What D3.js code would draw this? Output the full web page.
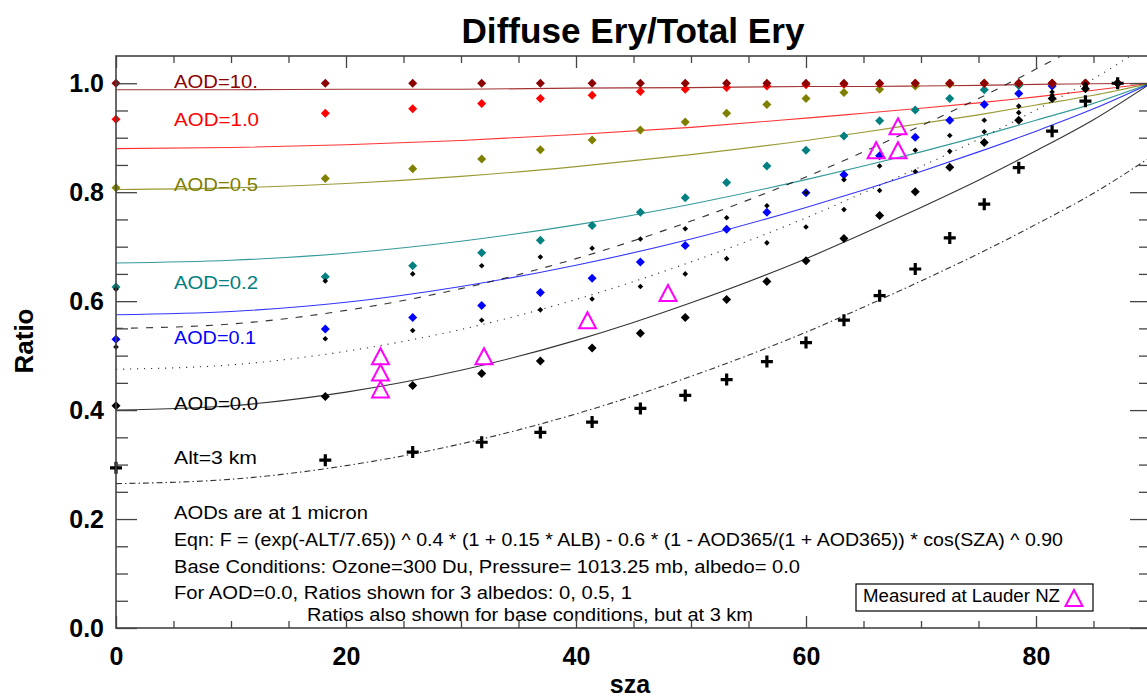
<!DOCTYPE html>
<html><head><meta charset="utf-8">
<script src="https://cdn.jsdelivr.net/npm/d3@7"></script>
<style>
body{margin:0;background:#fff}
svg{display:block}
text{font-family:"Liberation Sans",Arial,Helvetica,sans-serif}
</style>
</head><body>
<svg id="c" width="1147" height="700"></svg>
<script>
// ---------- data ----------
const szaMarks = [0, 18.2, 25.8, 31.8, 36.9, 41.4, 45.6, 49.5, 53.1, 56.6, 60.0, 63.3, 66.4, 69.5, 72.5, 75.5, 78.5, 81.4, 84.3, 87.1];
const aod10Pts = [1.0,1.0,1.0,1.0,1.0,1.0,1.0,1.0,1.0,1.0,1.0,1.0,1.0,1.0,1.0,1.0,1.0,1.0,1.0,1.0];
const aod1Pts  = [0.934,0.945,0.953,0.963,0.972,0.978,0.985,0.989,0.992,0.995,0.997,0.998,0.999,1.0,1.0,1.0,1.0,1.0,1.0,1.0];
const aod05Pts = [0.808,0.825,0.843,0.861,0.878,0.896,0.914,0.929,0.945,0.961,0.972,0.983,0.989,0.995,0.998,1.0,1.0,1.0,1.0,1.0];
const aod02Pts = [0.626,0.645,0.665,0.689,0.712,0.739,0.763,0.790,0.818,0.848,0.877,0.903,0.931,0.951,0.972,0.988,0.996,1.0,1.0,1.0];
const aod01Pts = [0.530,0.549,0.570,0.592,0.616,0.642,0.672,0.702,0.732,0.763,0.799,0.832,0.867,0.901,0.932,0.961,0.981,0.995,1.0,1.0];
const aod0Pts  = [0.408,0.425,0.445,0.467,0.490,0.514,0.541,0.570,0.603,0.636,0.674,0.715,0.757,0.801,0.846,0.891,0.932,0.972,0.990,1.0];
const alb05Pts = [0.516,0.531,0.546,0.565,0.584,0.604,0.627,0.650,0.678,0.707,0.736,0.768,0.803,0.838,0.875,0.911,0.946,0.978,0.995,1.0];
const alb1Pts  = [0.622,0.637,0.650,0.665,0.681,0.697,0.714,0.733,0.753,0.775,0.799,0.823,0.848,0.877,0.904,0.932,0.958,0.984,0.998,1.0];
const alt3Pts  = [0.294,0.308,0.323,0.341,0.359,0.378,0.403,0.427,0.456,0.489,0.524,0.565,0.610,0.659,0.716,0.778,0.845,0.912,0.967,1.0];

const lauderSza   = [23.0, 23.0, 23.0, 32.0, 41.0, 48.0, 66.1, 68.0, 68.0];
const lauderRatio = [0.499, 0.469, 0.438, 0.499, 0.565, 0.615, 0.877, 0.877, 0.921];

const lineSza   = [0,10,20,30,40,50,60,65,70,75,80,85,90];
const aod10Line = [0.988,0.988,0.989,0.989,0.991,0.992,0.994,0.994,0.995,0.996,0.998,0.999,1.0];
const aod1Line  = [0.880,0.882,0.887,0.895,0.906,0.919,0.936,0.945,0.954,0.964,0.975,0.987,1.0];
const aod05Line = [0.805,0.808,0.816,0.829,0.847,0.869,0.895,0.910,0.926,0.942,0.960,0.978,1.0];
const aod02Line = [0.670,0.675,0.688,0.710,0.740,0.778,0.823,0.848,0.874,0.902,0.932,0.963,1.0];
const aod01Line = [0.575,0.581,0.598,0.627,0.666,0.714,0.772,0.804,0.838,0.874,0.912,0.953,1.0];
const aod0Line  = [0.400,0.408,0.433,0.473,0.528,0.597,0.678,0.724,0.772,0.822,0.876,0.933,1.0];
const alb05Line = [0.475,0.483,0.508,0.548,0.603,0.672,0.753,0.799,0.847,0.897,0.951,1.008,1.075];
const alb1Line  = [0.550,0.558,0.583,0.623,0.678,0.747,0.828,0.874,0.922,0.972,1.026,1.083,1.150];
const alt3Line  = [0.265,0.273,0.298,0.338,0.393,0.462,0.543,0.589,0.637,0.687,0.741,0.798,0.865];

const xMajorTicks = [0,20,40,60,80];
const yMajorTicks = [0,0.2,0.4,0.6,0.8,1.0];
const yTickLabels = ["0.0","0.2","0.4","0.6","0.8","1.0"];

const seriesLabels = ["AOD=10.","AOD=1.0","AOD=0.5","AOD=0.2","AOD=0.1","AOD=0.0","Alt=3 km"];
const notes = [
  "AODs are at 1 micron",
  "Eqn: F = (exp(-ALT/7.65)) ^ 0.4 * (1 + 0.15 * ALB) - 0.6 * (1 - AOD365/(1 + AOD365)) * cos(SZA) ^ 0.90",
  "Base Conditions: Ozone=300 Du, Pressure= 1013.25 mb, albedo= 0.0",
  "For AOD=0.0, Ratios shown for 3 albedos: 0, 0.5, 1",
  "Ratios also shown for base conditions, but at 3 km"
];
const titleText = "Diffuse Ery/Total Ery";
const legendText = "Measured at Lauder NZ";

// ---------- layout ----------
const C = {dred:"#8b0000", red:"#ff0000", olive:"#808000", teal:"#008080", blue:"#0000ff", black:"#000000", mag:"#ff00ff"};
const svg = d3.select("#c");
const L = 116, R = 1151, T = 56, B = 628;
const x = d3.scaleLinear().domain([0,90]).range([L,R]);
const y = d3.scaleLinear().domain([0,1.05]).range([B,T]);

svg.append("defs").append("clipPath").attr("id","plotclip")
  .append("rect").attr("x",L).attr("y",T).attr("width",R-L).attr("height",B-T);

// title
svg.append("text").attr("x",633).attr("y",43).attr("text-anchor","middle")
  .attr("font-size",35).attr("font-weight","bold")
  .attr("textLength",343).attr("lengthAdjust","spacingAndGlyphs").text(titleText);

// ---------- lines ----------
const lineGen = d3.line().x(d=>x(d[0])).y(d=>y(d[1])).curve(d3.curveMonotoneX);
const lines = [
  {v:aod10Line, c:C.dred, dash:null},
  {v:aod1Line,  c:C.red,  dash:null},
  {v:aod05Line, c:C.olive,dash:null},
  {v:aod02Line, c:C.teal, dash:null},
  {v:aod01Line, c:C.blue, dash:null},
  {v:aod0Line,  c:C.black,dash:null},
  {v:alb05Line, c:C.black,dash:"1.2,5.8"},
  {v:alb1Line,  c:C.black,dash:"7,8"},
  {v:alt3Line,  c:C.black,dash:"6,3,1.5,3"}
];
const gl = svg.append("g").attr("clip-path","url(#plotclip)");
lines.forEach(s=>{
  gl.append("path").datum(lineSza.map((sz,i)=>[sz,s.v[i]]))
    .attr("d",lineGen).attr("fill","none").attr("stroke",s.c)
    .attr("stroke-width",1.1).attr("stroke-dasharray",s.dash).attr("opacity",0.8);
});

// ---------- markers ----------
const gm = svg.append("g");
function diamonds(vals, color, r){
  gm.append("g").selectAll("path").data(vals).join("path")
    .attr("transform",(d,i)=>`translate(${x(szaMarks[i])},${y(d)})`)
    .attr("d",`M0,${-r}L${r},0L0,${r}L${-r},0Z`).attr("fill",color);
}
diamonds(aod01Pts, C.blue, 4.5);
diamonds(aod02Pts, C.teal, 4.5);
diamonds(aod05Pts, C.olive,4.5);
diamonds(aod1Pts,  C.red,  4.5);
diamonds(aod10Pts, C.dred, 4.5);
diamonds(aod0Pts,  C.black,4.5);
diamonds(alb05Pts, C.black,2.8);
diamonds(alb1Pts,  C.black,2.8);
gm.append("g").selectAll("path").data(alt3Pts).join("path")
  .attr("transform",(d,i)=>`translate(${x(szaMarks[i])},${y(d)})`)
  .attr("d","M-6,0H6M0,-6V6").attr("stroke","#000").attr("stroke-width",3.2).attr("fill","none");
gm.append("g").selectAll("path").data(lauderRatio).join("path")
  .attr("transform",(d,i)=>`translate(${x(lauderSza[i])},${y(d)})`)
  .attr("d","M0,-8L8.5,8L-8.5,8Z").attr("stroke",C.mag).attr("stroke-width",2).attr("fill","none");

// ---------- in-plot labels ----------
const labelY = [88, 126, 191, 289, 344, 410, 464];
const labelColors = [C.dred, C.red, C.olive, C.teal, C.blue, C.black, C.black];
const labelW = [84, 85, 84, 84, 82, 84, 83];
seriesLabels.forEach((t,i)=>{
  svg.append("text").attr("x",174).attr("y",labelY[i]).attr("font-size",18)
    .attr("fill",labelColors[i]).attr("textLength",labelW[i])
    .attr("lengthAdjust","spacingAndGlyphs").text(t);
});

// ---------- notes ----------
const noteX = [174,174,174,174,307];
const noteY = [519,546,573,599,621];
const noteW = [194,889,626,458,446];
notes.forEach((t,i)=>{
  svg.append("text").attr("x",noteX[i]).attr("y",noteY[i]).attr("font-size",17.5)
    .attr("textLength",noteW[i]).attr("lengthAdjust","spacingAndGlyphs").text(t);
});

// legend box
svg.append("rect").attr("x",856).attr("y",584).attr("width",237).attr("height",27)
  .attr("fill","#fff").attr("stroke","#000").attr("stroke-width",1.2);
svg.append("text").attr("x",863).attr("y",602).attr("font-size",17.5)
  .attr("textLength",197).attr("lengthAdjust","spacingAndGlyphs").text(legendText);
svg.append("path").attr("transform","translate(1074,598)")
  .attr("d","M0,-8L8.5,8L-8.5,8Z").attr("stroke",C.mag).attr("stroke-width",2).attr("fill","none");

// ---------- axes ----------
const axCol = "#444";
function styleAxis(g){
  g.select(".domain").remove();
  g.selectAll(".tick line").attr("stroke",axCol).attr("stroke-width",1.3);
}
const xMinor = d3.range(0,91,5).filter(v=>v%20!==0);
const yMinor = d3.range(0,21).map(v=>v*0.05).filter((v,i)=>i%4!==0);

// bottom
svg.append("g").attr("transform",`translate(0,${B})`)
  .call(d3.axisBottom(x).tickValues(xMajorTicks).tickSize(-12).tickPadding(19).tickFormat(d3.format("d")))
  .call(styleAxis)
  .call(g=>g.selectAll("text").attr("font-size",25).attr("font-weight","bold").attr("fill","#000")
    .attr("font-family",'"Liberation Sans",Arial,sans-serif'));
svg.append("g").attr("transform",`translate(0,${B})`)
  .call(d3.axisBottom(x).tickValues(xMinor).tickSize(-7).tickFormat(""))
  .call(styleAxis);
// top
svg.append("g").attr("transform",`translate(0,${T})`)
  .call(d3.axisTop(x).tickValues(xMajorTicks).tickSize(-12).tickFormat(""))
  .call(styleAxis);
svg.append("g").attr("transform",`translate(0,${T})`)
  .call(d3.axisTop(x).tickValues(xMinor).tickSize(-7).tickFormat(""))
  .call(styleAxis);
// left
svg.append("g").attr("transform",`translate(${L},0)`)
  .call(d3.axisLeft(y).tickValues(yMajorTicks).tickSize(-21).tickPadding(12)
    .tickFormat((d,i)=>yTickLabels[i]))
  .call(styleAxis)
  .call(g=>g.selectAll("text").attr("font-size",25).attr("font-weight","bold").attr("fill","#000")
    .attr("font-family",'"Liberation Sans",Arial,sans-serif'));
svg.append("g").attr("transform",`translate(${L},0)`)
  .call(d3.axisLeft(y).tickValues(yMinor).tickSize(-12).tickFormat(""))
  .call(styleAxis);
// right
svg.append("g").attr("transform",`translate(${R},0)`)
  .call(d3.axisRight(y).tickValues(yMajorTicks).tickSize(-21).tickFormat(""))
  .call(styleAxis);
svg.append("g").attr("transform",`translate(${R},0)`)
  .call(d3.axisRight(y).tickValues(yMinor).tickSize(-12).tickFormat(""))
  .call(styleAxis);
// frame
svg.append("rect").attr("x",L).attr("y",T).attr("width",R-L).attr("height",B-T)
  .attr("fill","none").attr("stroke",axCol).attr("stroke-width",1.6);

// axis titles
svg.append("text").attr("x",630).attr("y",693).attr("text-anchor","middle")
  .attr("font-size",25).attr("font-weight","bold").text("sza");
svg.append("text").attr("transform","translate(33,341) rotate(-90)").attr("text-anchor","middle")
  .attr("font-size",26).attr("font-weight","bold").text("Ratio");
</script>
</body></html>
